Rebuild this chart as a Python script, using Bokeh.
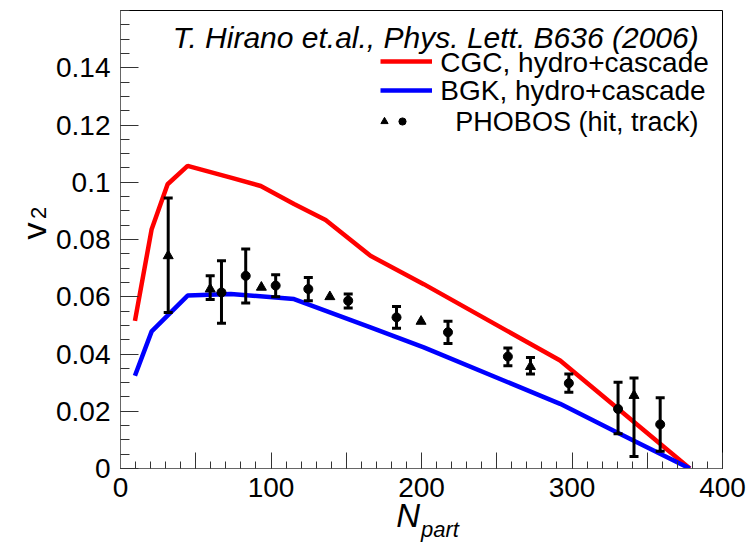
import numpy as np
from bokeh.plotting import figure
from bokeh.core.properties import value
from bokeh.models import (ColumnDataSource, Whisker, TeeHead, Label, Legend, LegendItem,
                          FixedTicker, CustomJSTickFormatter, Range1d)
from bokeh.embed import file_html
from bokeh.resources import INLINE

# ---------------- data ----------------
cgc_npart = [9.6, 20.7, 31.3, 44.6, 73.3, 93.2, 115.3, 136.3, 166.1, 201.5, 292.1, 378.3]
cgc_v2 = [0.0516, 0.0836, 0.0993, 0.1057, 0.1016, 0.0987, 0.0924, 0.0868, 0.0743, 0.0644, 0.0377, 0.0]

bgk_npart = [9.6, 20.7, 44.6, 73.3, 115.3, 166.1, 201.5, 292.1, 329.7, 378.3]
bgk_v2 = [0.0324, 0.0479, 0.0604, 0.0610, 0.0592, 0.0493, 0.0423, 0.0226, 0.0127, 0.0]

hit_npart = [31.7, 59.6, 93.6, 139.1, 199.7, 272.4, 341.2]
hit_v2 = [0.0743, 0.0627, 0.0633, 0.0600, 0.0514, 0.0356, 0.0255]
hit_lo = [0.0545, 0.0590, 0.0633, 0.0600, 0.0514, 0.0330, 0.0042]
hit_hi = [0.0945, 0.0673, 0.0633, 0.0600, 0.0514, 0.0388, 0.0316]

track_npart = [67.1, 83.2, 103.1, 124.8, 151.3, 183.4, 217.6, 257.4, 297.9, 330.6, 358.6]
track_v2 = [0.0615, 0.0673, 0.0639, 0.0627, 0.0586, 0.0528, 0.0476, 0.0391, 0.0298, 0.0208, 0.0154]
track_lo = [0.0507, 0.0578, 0.0600, 0.0586, 0.0561, 0.0490, 0.0437, 0.0359, 0.0266, 0.0121, 0.0060]
track_hi = [0.0726, 0.0767, 0.0677, 0.0667, 0.0610, 0.0566, 0.0514, 0.0421, 0.0330, 0.0301, 0.0247]

x_tick_values = [0, 100, 200, 300, 400]
y_tick_values = [0, 0.02, 0.04, 0.06, 0.08, 0.10, 0.12, 0.14]

title_text = "T. Hirano et.al., Phys. Lett. B636 (2006)"
cgc_label = "CGC, hydro+cascade"
bgk_label = "BGK, hydro+cascade"
phobos_label = "PHOBOS (hit, track)"
x_title_main, x_title_sub = "N", "part"
y_title_main, y_title_sub = "v", "2"

FONT = "Liberation Sans"

# ---------------- figure ----------------
p = figure(width=746, height=543, x_range=Range1d(0, 400), y_range=Range1d(0, 0.16),
           output_backend="svg", toolbar_location=None,
           min_border_left=120, min_border_right=24, min_border_top=10, min_border_bottom=75)
p.grid.visible = False
p.outline_line_color = "black"
p.outline_line_width = 1
p.background_fill_color = "white"
p.border_fill_color = "white"

# x axis
xa = p.xaxis[0]
x_major = sorted(set(x_tick_values + [v + 50 for v in x_tick_values[:-1]]))
xa.ticker = FixedTicker(ticks=x_major, minor_ticks=list(np.arange(0, 401, 10)))
xa.major_label_overrides = {v: "" for v in x_major if v not in x_tick_values}
xa.major_tick_in = 16
xa.major_tick_out = 0
xa.minor_tick_in = 7
xa.minor_tick_out = 0
xa.major_label_standoff = 9
xa.major_label_text_font = FONT
xa.major_label_text_font_size = "28px"
xa.major_label_text_color = "black"
xa.axis_line_color = "#666666"
xa.major_tick_line_color = "#333333"
xa.minor_tick_line_color = "#333333"

# y axis
ya = p.yaxis[0]
ya.ticker = FixedTicker(ticks=y_tick_values, minor_ticks=list(np.arange(0, 0.1601, 0.005)))
ya.formatter = CustomJSTickFormatter(
    code="return tick.toFixed(2).replace(/0+$/, '').replace(/\\.$/, '');")
ya.major_tick_in = 18
ya.major_tick_out = 0
ya.minor_tick_in = 9
ya.minor_tick_out = 0
ya.major_label_standoff = 10
ya.major_label_text_font = FONT
ya.major_label_text_font_size = "28px"
ya.major_label_text_color = "black"
ya.axis_line_color = "#666666"
ya.major_tick_line_color = "#333333"
ya.minor_tick_line_color = "#333333"

# ---------------- curves ----------------
red_r = p.line(cgc_npart, cgc_v2, line_color="#ff0000", line_width=4.5)
blue_r = p.line(bgk_npart, bgk_v2, line_color="#0000ff", line_width=4.5)

# ---------------- data points with error bars ----------------
def err_source(xs, lo, hi):
    keep = [i for i in range(len(xs)) if hi[i] - lo[i] > 1e-9]
    return ColumnDataSource(dict(x=[xs[i] for i in keep],
                                 lo=[lo[i] for i in keep],
                                 hi=[hi[i] for i in keep]))

for xs, lo, hi in [(hit_npart, hit_lo, hit_hi), (track_npart, track_lo, track_hi)]:
    w = Whisker(base="x", lower="lo", upper="hi", source=err_source(xs, lo, hi),
                dimension="height", line_color="black", line_width=3,
                upper_head=TeeHead(size=9, line_width=3, line_color="black"),
                lower_head=TeeHead(size=9, line_width=3, line_color="black"),
                level="glyph")
    p.add_layout(w)

tri_r = p.scatter(hit_npart, hit_v2, marker="triangle", size=10,
                  fill_color="black", line_color="black")
circ_r = p.scatter(track_npart, track_v2, marker="circle", size=9,
                   fill_color="black", line_color="black")

# ---------------- legend ----------------
leg_lines = Legend(items=[LegendItem(label="", renderers=[red_r]),
                          LegendItem(label="", renderers=[blue_r])],
                   location=(260, 368), orientation="vertical",
                   glyph_width=52, glyph_height=20, spacing=9, padding=0, margin=0,
                   label_standoff=0, label_width=0, label_height=20,
                   label_text_font_size="1px",
                   border_line_alpha=0, background_fill_alpha=0)
p.add_layout(leg_lines)

leg_marks = Legend(items=[LegendItem(label="", renderers=[tri_r]),
                          LegendItem(label="", renderers=[circ_r])],
                   location=(255, 338), orientation="horizontal",
                   glyph_width=18, glyph_height=18, spacing=-3, padding=0, margin=0,
                   label_standoff=0, label_width=0, label_height=18,
                   label_text_font_size="1px",
                   border_line_alpha=0, background_fill_alpha=0)
p.add_layout(leg_marks)

def add_label(x, y, text, size, style="normal", align="left", baseline="middle"):
    p.add_layout(Label(x=x, y=y, text=text, text_font=FONT, text_font_size=size,
                       text_font_style=style, text_align=align, text_baseline=baseline,
                       text_color="black"))

add_label(34.8, 0.1507, title_text, "30px", style="italic")
add_label(212.5, 0.1420, cgc_label, "28px")
add_label(212.5, 0.1319, bgk_label, "28px")
add_label(222.5, 0.1211, phobos_label, "27px")

# axis titles: text glyphs on the overlay level so they are not clipped to the frame
def add_title_text(x, y, text, size, style="normal", align="left", angle=0.0):
    p.text(x=[x], y=[y], text=[text], text_font=value(FONT), text_font_size=value(size),
           text_font_style=style, text_align=align, text_baseline="alphabetic",
           angle=angle, text_color="black", level="overlay")

add_title_text(199.0, -0.0164, x_title_main, "33px", style="italic", align="right")
add_title_text(199.7, -0.0212, x_title_sub, "22px", style="italic", align="left")
add_title_text(-57.5, 0.0830, y_title_main, "34px", align="center", angle=np.pi / 2)
add_title_text(-54.8, 0.0893, y_title_sub, "22px", align="center", angle=np.pi / 2)

open("out.html", "w").write(file_html(p, INLINE))
